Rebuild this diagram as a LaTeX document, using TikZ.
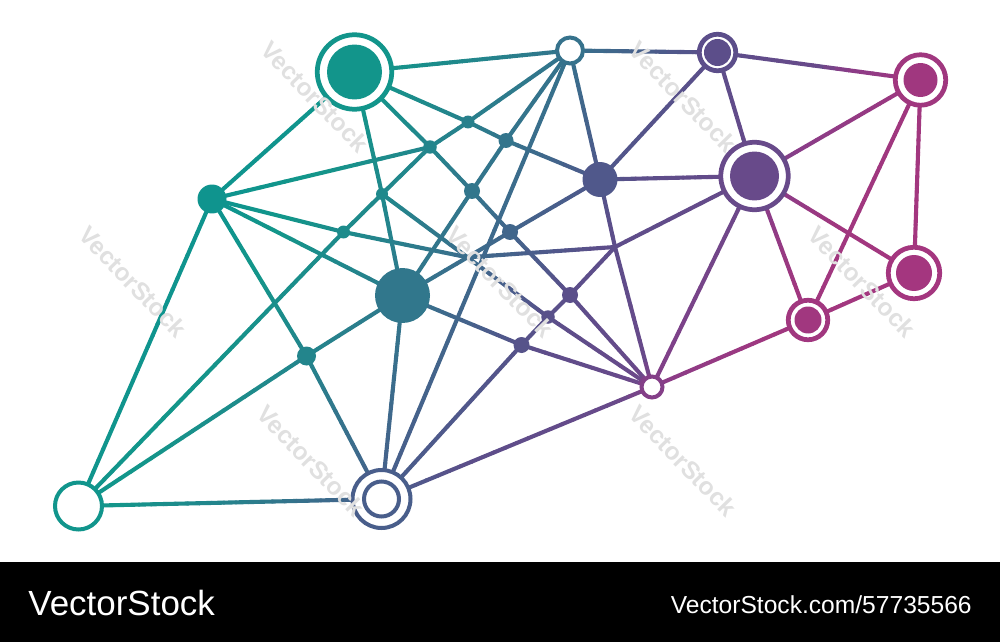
\documentclass[tikz,border=0pt]{standalone}
\usepackage{fontspec}
\setmainfont{Liberation Sans}
\usetikzlibrary{calc}
\pgfdeclarelayer{background}
\pgfsetlayers{background,main}

\definecolor{gA}{HTML}{0F948E}
\definecolor{gB}{HTML}{13968A}
\definecolor{gC}{HTML}{23858C}
\definecolor{gD}{HTML}{33758C}
\definecolor{gE}{HTML}{4B5C8B}
\definecolor{gF}{HTML}{5C4E8A}
\definecolor{gG}{HTML}{684A8A}
\definecolor{gH}{HTML}{8A3D88}
\definecolor{gI}{HTML}{A0377F}
\definecolor{gJ}{HTML}{A5367F}
\colorlet{gc}{gA}

\newcommand\gmix[4]{\pgfmathtruncatemacro\gP{100*(#4-\gT)/(#4-#3)}\colorlet{gc}{#1!\gP!#2}}
\newcommand\gradcolor[1]{%
  \pgfmathsetmacro\gT{#1}%
  \ifdim\gT pt<350pt \colorlet{gc}{gA}%
  \else\ifdim\gT pt<420pt \gmix{gA}{gB}{350}{420}%
  \else\ifdim\gT pt<520pt \gmix{gB}{gC}{420}{520}%
  \else\ifdim\gT pt<590pt \gmix{gC}{gD}{520}{590}%
  \else\ifdim\gT pt<690pt \gmix{gD}{gE}{590}{690}%
  \else\ifdim\gT pt<750pt \gmix{gE}{gF}{690}{750}%
  \else\ifdim\gT pt<860pt \gmix{gF}{gG}{750}{860}%
  \else\ifdim\gT pt<890pt \gmix{gG}{gH}{860}{890}%
  \else\ifdim\gT pt<970pt \gmix{gH}{gI}{890}{970}%
  \else\ifdim\gT pt<1100pt \gmix{gI}{gJ}{970}{1100}%
  \else \colorlet{gc}{gJ}%
  \fi\fi\fi\fi\fi\fi\fi\fi\fi\fi}

\newcommand\ringnode[5]{\gradcolor{#2+0.6*#3}\node[ring, minimum size=#4cm] (#1) at (#2,#3) {};\fill[gc] (#1.center) circle (#5cm);}
\newcommand\hollownode[4]{\gradcolor{#2+0.6*#3}\node[hollow, minimum size=#4cm] (#1) at (#2,#3) {};}
\newcommand\dotnode[4]{\gradcolor{#2+0.6*#3}\node[dot, minimum size=#4cm] (#1) at (#2,#3) {};}

\newcommand\gedge[2]{%
  \pgfpointanchor{#1}{center}\pgfgetlastxy{\gax}{\gay}%
  \pgfpointanchor{#2}{center}\pgfgetlastxy{\gbx}{\gby}%
  \pgfmathsetmacro\glen{veclen(\gbx-\gax,\gby-\gay)}%
  \pgfmathtruncatemacro\gn{max(1,round(\glen/7))}%
  \foreach \gi in {1,...,\gn}{%
    \pgfmathsetmacro\gf{(\gi-0.5)/\gn}%
    \gradcolor{((\gax+\gf*(\gbx-\gax))-0.6*(\gay+\gf*(\gby-\gay)))/0.569055}%
    \draw[link] ($(#1.center)!{(\gi-1)/\gn}!(#2.center)$) -- ($(#1.center)!{\gi/\gn}!(#2.center)$);
  }%
}

\begin{document}
\begin{tikzpicture}[x=0.02cm, y=-0.02cm,
  link/.style={draw=gc, line width=0.082cm, line cap=round},
  ring/.style={circle, draw=gc, fill=white, line width=0.095cm, inner sep=0pt, outer sep=0pt},
  hollow/.style={circle, draw=gc, fill=white, line width=0.08cm, inner sep=0pt, outer sep=0pt},
  dot/.style={circle, fill=gc, inner sep=0pt, outer sep=0pt},
  wm/.style={rotate=-46, text=black!12, font=\fontsize{14pt}{14pt}\selectfont\bfseries, inner sep=0pt},
  bartext/.style={text=white, inner sep=0pt}]
\useasboundingbox (0,0) rectangle (1000,642);
\begin{pgfonlayer}{background}
  \fill[white] (0,0) rectangle (1000,642);
\end{pgfonlayer}

% main nodes
\ringnode{A}{354.5}{72}{1.49}{0.55}
\dotnode{B}{212}{199}{0.58}
\hollownode{C}{78.5}{506}{0.94}
\hollownode{D}{381.5}{499}{1.16}
\draw[draw=gc, line width=0.08cm] (D.center) circle (0.35cm);
\dotnode{E}{402.5}{295.5}{1.10}
\hollownode{F}{570}{50.5}{0.52}
\ringnode{G}{717.5}{52.5}{0.73}{0.27}
\dotnode{H}{600}{179.5}{0.70}
\ringnode{I}{754.5}{176}{1.35}{0.49}
\ringnode{J}{920.5}{80}{1.01}{0.34}
\ringnode{K}{914}{273}{1.03}{0.36}
\ringnode{L}{808}{320}{0.79}{0.27}
\hollownode{M}{652}{387}{0.42}
% junction dots
\dotnode{s1}{468}{122}{0.26}
\dotnode{s2}{506}{140.5}{0.30}
\dotnode{s3}{430}{147}{0.27}
\dotnode{s4}{472}{191}{0.32}
\dotnode{s5}{382}{194}{0.24}
\dotnode{s6}{343.5}{232}{0.26}
\dotnode{s7}{510}{232}{0.32}
\dotnode{s8}{570}{295}{0.32}
\dotnode{s9}{548}{317}{0.27}
\dotnode{s10}{521.5}{345}{0.32}
\dotnode{s11}{306.5}{356}{0.38}
\coordinate (X) at (615,247);
\coordinate (P) at (467.5,257.3);

% connectors (gradient coloured, under the nodes)
\begin{pgfonlayer}{background}
\foreach \a/\b in {A/F, F/G, G/J, A/B, B/C, C/D,
  A/s1, s1/s2, s2/H,
  A/s3, s3/s4, s4/s7, s7/s8, s8/M,
  A/s5, s5/E, B/s3, B/s6, s6/P, P/X, B/E, B/s11, s11/D,
  C/s6, s6/s5, s5/s3, s3/s1, s1/F, C/s11, s11/E,
  F/s2, s2/s4, s4/E, F/D, F/H, H/G, H/I,
  E/P, P/s7, s7/H, H/X, X/M, D/E,
  D/s10, s10/s9, s9/s8, s8/X, X/I, D/M,
  s5/s9, s9/M, E/s10, s10/M,
  G/I, I/J, I/K, I/L, I/M, J/L, J/K, K/L, L/M}{\gedge{\a}{\b}}
\end{pgfonlayer}

% watermark
\foreach \x/\y [count=\k] in {315/97, 683/97, 133/282, 500/282, 862/282, 311/461, 683/461}{
  \node[wm] (wm\k) at (\x,\y) {VectorStock};
}

% bottom bar
\fill[black] (0,562) rectangle (1000,642);
\node[bartext, anchor=base west, font=\fontsize{19.9pt}{20pt}\selectfont] (brand) at (28,615) {VectorStock};
\node[bartext, anchor=base east, font=\fontsize{14pt}{15pt}\selectfont] (url) at (972,613) {VectorStock.com/57735566};
\end{tikzpicture}
\end{document}
